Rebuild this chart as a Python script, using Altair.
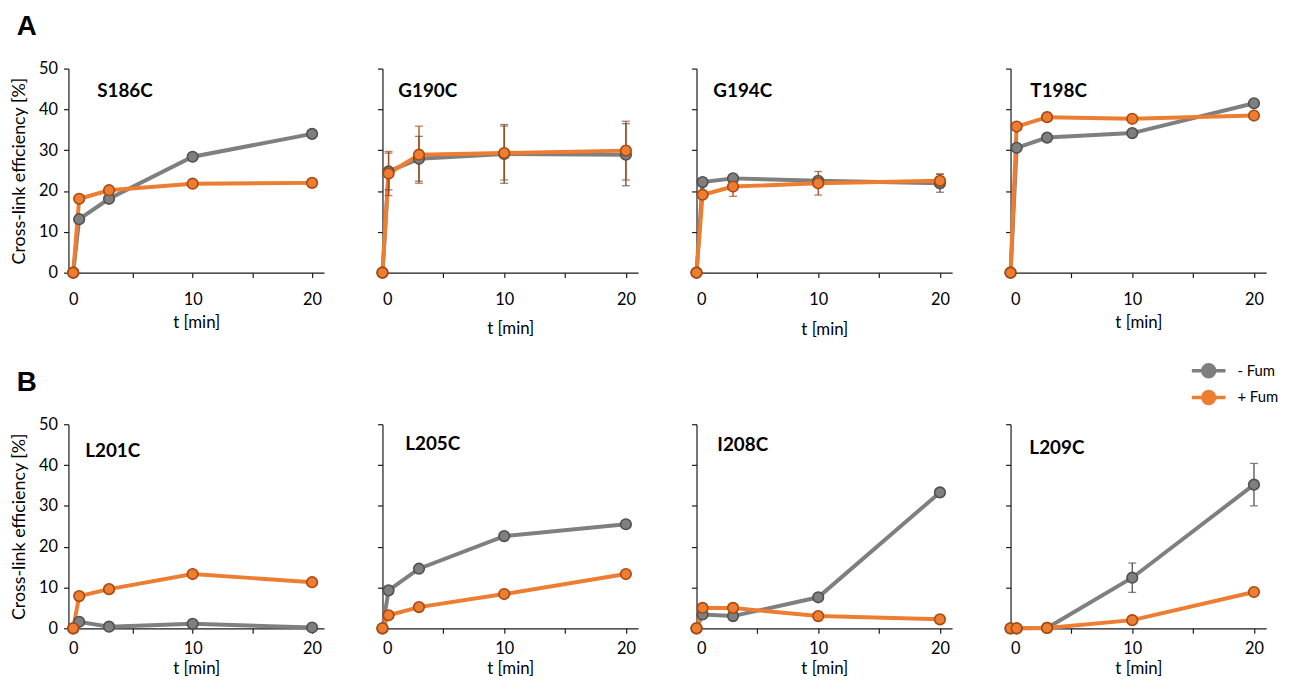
import altair as alt
import pandas as pd

TIMES = [0, 0.5, 3, 10, 20]
SERIES = ["- Fum", "+ Fum"]
ROW_A = ["S186C", "G190C", "G194C", "T198C"]
ROW_B = ["L201C", "L205C", "I208C", "L209C"]

MINUS_FUM = {
    "S186C": [0, 13.1, 18.1, 28.4, 34.0],
    "G190C": [0, 24.8, 27.9, 29.1, 28.9],
    "G194C": [0, 22.2, 23.1, 22.5, 21.9],
    "T198C": [0, 30.6, 33.1, 34.2, 41.5],
    "L201C": [0, 1.6, 0.4, 1.1, 0.2],
    "L205C": [0, 9.3, 14.6, 22.6, 25.5],
    "I208C": [0, 3.4, 3.0, 7.6, 33.3],
    "L209C": [0, 0, 0.1, 12.4, 35.2],
}
PLUS_FUM = {
    "S186C": [0, 18.1, 20.2, 21.8, 22.0],
    "G190C": [0, 24.3, 28.9, 29.3, 29.9],
    "G194C": [0, 19.1, 21.1, 21.9, 22.5],
    "T198C": [0, 35.8, 38.1, 37.7, 38.5],
    "L201C": [0, 7.9, 9.6, 13.3, 11.3],
    "L205C": [0, 3.2, 5.2, 8.4, 13.3],
    "I208C": [0, 5.0, 5.0, 3.0, 2.2],
    "L209C": [0, 0, 0.1, 2.0, 8.9],
}
MINUS_ERR = {
    "G190C": [0, 4.5, 5.5, 7.2, 7.6],
    "G194C": [0, 0, 0, 0, 2.2],
    "L209C": [0, 0, 0, 3.6, 5.2],
}
PLUS_ERR = {
    "G190C": [0, 5.4, 7.0, 6.6, 7.2],
    "G194C": [0, 0, 2.4, 2.9, 1.7],
}

rows = []
for name in ROW_A + ROW_B:
    for series, vals, errs in [(SERIES[0], MINUS_FUM, MINUS_ERR), (SERIES[1], PLUS_FUM, PLUS_ERR)]:
        e = errs.get(name, [0] * len(TIMES))
        for t, v, er in zip(TIMES, vals[name], e):
            rows.append({"panel": name, "series": series, "t": t, "value": v,
                         "err": er, "lo": v - er, "hi": v + er})
df = pd.DataFrame(rows)

LINE_COLORS = ["#7f7f7f", "#ed7d31"]
EDGE_COLORS = ["#505050", "#a9480f"]
color_scale = alt.Scale(domain=SERIES, range=LINE_COLORS)
edge_scale = alt.Scale(domain=SERIES, range=EDGE_COLORS)

LEGEND_PATH = ("M -1.7 0 L 1.7 0 M -0.6 0 A 0.6 0.6 0 1 1 0.6 0 "
               "A 0.6 0.6 0 1 1 -0.6 0 Z")
legend = alt.Legend(orient="none", legendX=1139, legendY=293, title=None,
                    symbolType=LEGEND_PATH, symbolSize=400, symbolStrokeWidth=3.5,
                    labelFont="Lato", labelFontSize=15, labelColor="#000",
                    rowPadding=1, labelOffset=17)

TITLE_DX = {"S186C": 29, "G190C": 16, "G194C": 17, "T198C": 20,
            "L201C": 17, "L205C": 23, "I208C": 21, "L209C": 19}
TITLE_DOWN = {"S186C": 15, "G190C": 15, "G194C": 15, "T198C": 15,
              "L201C": 19, "L205C": 13, "I208C": 14, "L209C": 17}
XTITLE_PAD = {"S186C": 7, "G190C": 13, "G194C": 14, "T198C": 7,
              "L201C": 4, "L205C": 4, "I208C": 4, "L209C": 4}
XLABEL_PAD = {"S186C": 14, "G190C": 14, "G194C": 14, "T198C": 14,
              "L201C": 7, "L205C": 7, "I208C": 7, "L209C": 7}


def panel(name, col):
    base = alt.Chart(df).transform_filter(alt.datum.panel == name)
    xdom = [-0.4, 21] if col == 0 else [0, 21]
    x = alt.X("t:Q", scale=alt.Scale(domain=xdom, nice=False, zero=False),
              axis=alt.Axis(values=[0, 5, 10, 15, 20],
                            labelExpr="datum.value % 10 == 0 ? datum.label : ''",
                            title="t [min]", titlePadding=XTITLE_PAD[name],
                            labelPadding=XLABEL_PAD[name], titleFontSize=17))
    yaxis = alt.Axis(values=[0, 10, 20, 30, 40, 50], labels=(col == 0),
                     title="Cross-link efficiency [%]" if col == 0 else "",
                     titlePadding=10, labelPadding=6, titleFontSize=18)
    y = alt.Y("value:Q", scale=alt.Scale(domain=[0, 50], nice=False), axis=yaxis)

    lines = base.mark_line(strokeWidth=4).encode(
        x=x, y=y, color=alt.Color("series:N", scale=color_scale, legend=legend))
    ebase = base.transform_filter(alt.datum.err > 0)
    bars = ebase.mark_rule(strokeWidth=1.3).encode(
        x="t:Q", y="lo:Q", y2="hi:Q",
        stroke=alt.Stroke("series:N", scale=edge_scale, legend=None))
    cap_hi = ebase.mark_tick(orient="horizontal", size=8, thickness=1.3).encode(
        x="t:Q", y="hi:Q", fill=alt.Fill("series:N", scale=edge_scale, legend=None))
    cap_lo = ebase.mark_tick(orient="horizontal", size=8, thickness=1.3).encode(
        x="t:Q", y="lo:Q", fill=alt.Fill("series:N", scale=edge_scale, legend=None))
    pts = base.mark_point(filled=True, size=115, opacity=1, strokeWidth=1.6).encode(
        x="t:Q", y="value:Q",
        color=alt.Color("series:N", scale=color_scale, legend=legend),
        stroke=alt.Stroke("series:N", scale=edge_scale, legend=None))
    off = -(TITLE_DOWN[name] + (26 if col == 0 else 18))
    title = alt.TitleParams(name, anchor="start", frame="group", dx=TITLE_DX[name],
                            offset=off, baseline="top",
                            font="Lato", fontSize=19, fontWeight="bold", color="#000")
    return alt.layer(lines, bars, cap_hi, cap_lo, pts).properties(
        width=258, height=206, title=title)


def row(names, label):
    return alt.hconcat(*[panel(n, i) for i, n in enumerate(names)],
                       spacing=59, bounds="flush",
                       title=alt.TitleParams(label, anchor="start", font="Liberation Sans",
                                             fontSize=28, fontWeight="bold", color="#000",
                                             offset=20, dx=6))


chart = alt.vconcat(row(ROW_A, "A"), row(ROW_B, "B"), spacing=31).properties(
    padding={"left": 2, "top": 2, "right": 2, "bottom": 0}
).configure_view(stroke=None).configure_axis(
    grid=False, domainColor="#1a1a1a", tickColor="#1a1a1a", domainWidth=1.2,
    tickWidth=1.2, tickSize=5, labelFont="Lato", titleFont="Lato",
    labelFontSize=16.5, titleFontSize=16.5, labelColor="#000", titleColor="#000",
    titleFontWeight="normal"
).configure_concat(spacing=59)

chart.save("out.html", embed_options={"renderer": "svg", "actions": False})
